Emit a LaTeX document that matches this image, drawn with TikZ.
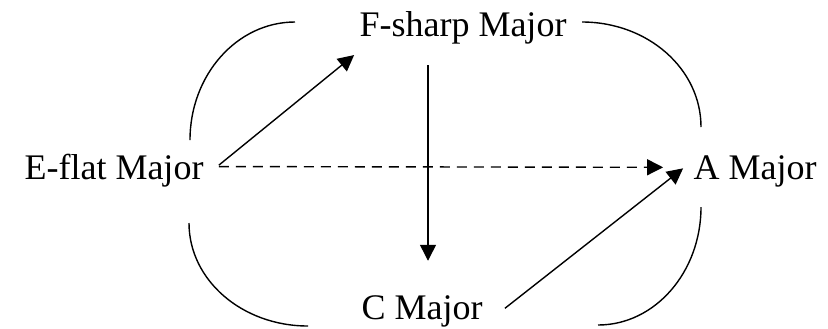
\documentclass[tikz,border=0pt]{standalone}
\usepackage{fontspec}
\setmainfont{Liberation Serif}
\usetikzlibrary{arrows.meta, calc}
\tikzset{
  key/.style={font=\fontsize{18}{21}\selectfont, inner sep=3.5pt, anchor=base},
  arrowline/.style={-{Triangle[length=8pt, width=8pt]}, line width=0.7pt},
  dashline/.style={arrowline, dash pattern=on 5pt off 3.5pt},
  bracket/.style={line width=0.7pt},
}

\begin{document}
\begin{tikzpicture}[x=0.5pt, y=-0.5pt]
\useasboundingbox (0,0) rectangle (828,328);
\node[key] (fsharp) at (463,36) {F-sharp Major};
\node[key] (eflat) at (114,179) {E-flat Major};
\node[key] (amaj) at (755,179) {A Major};
\node[key] (cmaj) at (422,319) {C Major};

% round brackets
\draw[bracket] (295,22) .. controls (237,22) and (190,75) .. (190,140);
\draw[bracket] (582,22) .. controls (648,22) and (701,69) .. (701,127);
\draw[bracket] (701,207) .. controls (701,272) and (655,325) .. (598,325);
\draw[bracket] (189,223) .. controls (189,280) and (242,326) .. (308,326);

\draw[arrowline] ([xshift=4pt, yshift=2.5pt]eflat.east) -- ([xshift=1pt, yshift=-2pt]fsharp.south west);
\draw[dashline] ([xshift=4pt, yshift=1.8pt]eflat.east) -- ([xshift=-11.5pt, yshift=1.8pt]amaj.west);
\draw[arrowline, shorten <=7pt, shorten >=13.5pt] ($(cmaj.north |- fsharp.south)+(6,0)$) -- ($(cmaj.north)+(6,0)$);
\draw[arrowline] ([xshift=7.5pt, yshift=1.3pt]cmaj.east) -- ([xshift=-1.5pt, yshift=1.3pt]amaj.west);
\end{tikzpicture}
\end{document}
